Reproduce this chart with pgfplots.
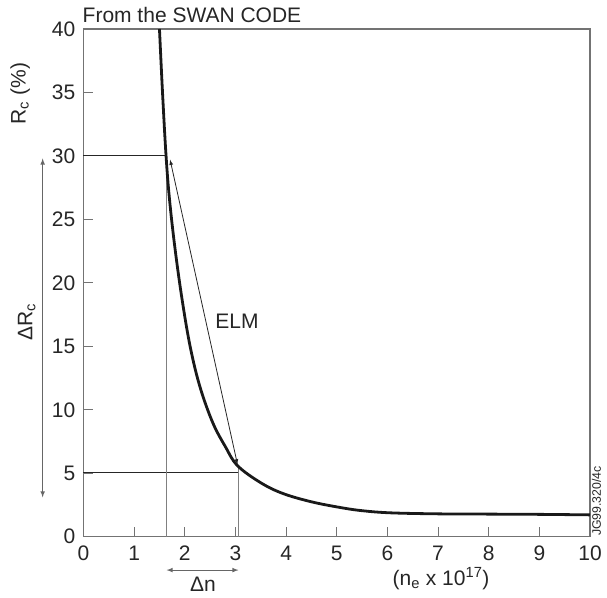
\documentclass[border=0pt]{standalone}
\usepackage{pgfplots}
\pgfplotsset{compat=1.18}
\usepackage{fontspec}
\setmainfont{Liberation Sans}
\begin{document}
\fontsize{21}{25}\selectfont
\begin{tikzpicture}[>=latex]
\begin{axis}[
  at={(0,0)}, anchor=south west,
  scale only axis,
  width=506.5pt, height=507.7pt,
  xmin=0, xmax=10, ymin=0, ymax=40,
  xtick={0,1,...,10}, ytick={0,5,...,40},
  tick align=inside,
  xtick pos=bottom, ytick pos=left,
  major tick length=10pt,
  axis line style={gray!90!black, line width=1.1pt},
  tick style={gray!90!black, line width=1.1pt},
  ticklabel style={font=\fontsize{21}{25}\selectfont, text=black!85},
  /pgf/number format/assume math mode=true,
  yticklabel style={xshift=-1pt},
  xticklabel style={yshift=-2pt},
  clip=false,
]
% reference lines
\addplot[draw=black!85, line width=0.9pt] coordinates {(0,30) (1.64,30)};
\addplot[draw=black!85, line width=0.9pt] coordinates {(0,5.1) (3.06,5.1)};
\addplot[draw=gray, line width=1.1pt] coordinates {(1.64,0) (1.64,30)};
\addplot[draw=gray, line width=1.1pt] coordinates {(3.06,0) (3.06,5.5)};
% main curve
\addplot[black!90, line width=2.8pt, smooth, tension=0.6] coordinates {
(1.50,40) (1.56,35) (1.63,30) (1.70,26.5) (1.81,22.6) (1.95,18.6)
(2.11,14.9) (2.30,11.8) (2.55,9.0) (2.80,7.1) (3.04,5.6) (3.5,4.25) (3.94,3.4)
(4.5,2.75) (5.07,2.3) (5.5,2.05) (6.06,1.88) (7,1.8) (8,1.78) (9,1.76) (10,1.72)};
% ELM arrow
\addplot[black!85, line width=0.8pt, <->] coordinates {(1.71,29.7) (3.04,5.7)};
% Delta R arrow
\addplot[gray!80!black, line width=1.1pt, <->] coordinates {(-0.806,29.8) (-0.806,3.1)};
% Delta n arrow
\addplot[gray!80!black, line width=1.1pt, <->] coordinates {(1.64,-2.63) (3.06,-2.63)};
\node[anchor=base west, inner sep=0pt, text=black!85] at (axis cs:-0.02,40.53) {From the SWAN CODE};
\node[text=black!85] at (axis cs:3.03,17.0) {ELM};
\node[rotate=90, text=black!85] at (axis cs:-1.25,34.9) {R\textsubscript{c} (\%)};
\node[rotate=90, text=black!85] at (axis cs:-1.12,16.9) {ΔR\textsubscript{c}};
\node[text=black!85] at (axis cs:2.36,-3.75) {Δn};
\node[text=black!85] at (axis cs:7.06,-3.3) {(n\textsubscript{e} x 10\textsuperscript{17})};
\node[rotate=90, anchor=west, font=\fontsize{12.3}{14}\selectfont, text=black!85, inner sep=0pt] at (axis cs:10.13,0.05) {JG99.320/4c};
\end{axis}
\pgfresetboundingbox
\path (-83.5pt,-60.3pt) rectangle (523.5pt,536.7pt);
\end{tikzpicture}
\end{document}
